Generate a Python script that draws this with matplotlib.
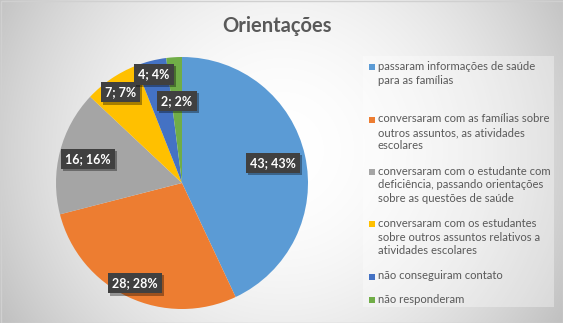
import numpy as np
import matplotlib
matplotlib.use("Agg")
import matplotlib.pyplot as plt
from matplotlib.patches import Rectangle
import matplotlib.patheffects as pe

plt.rcParams['font.family'] = ['Lato', 'DejaVu Sans']

# Data
categories = [
    "passaram informações de saúde\npara as famílias",
    "conversaram com as famílias sobre\noutros assuntos, as atividades\nescolares",
    "conversaram com o estudante com\ndeficiência, passando orientações\nsobre as questões de saúde",
    "conversaram com os estudantes\nsobre outros assuntos relativos a\natividades escolares",
    "não conseguiram contato",
    "não responderam",
]
values = [43, 28, 16, 7, 4, 2]
colors = ["#5B9BD5", "#ED7D31", "#A5A5A5", "#FFC000", "#4472C4", "#70AD47"]
legend_rows = [3, 3, 3, 3, 1, 1]
label_dist = [0.74, 0.88, 0.77, 0.87, 0.89, 0.65]
title = "Orientações"

W, H = 563, 323
fig = plt.figure(figsize=(W / 100, H / 100), dpi=100)

# Radial gradient background
bg = fig.add_axes([0, 0, 1, 1])
yy, xx = np.mgrid[0:H, 0:W]
d = np.hypot(xx - 282, yy - 150)
d = d / d.max()
v = 1 - 0.25 * d ** 2
img = np.dstack([v, v, v])
bg.imshow(img, extent=[0, W, H, 0], aspect='auto', interpolation='bilinear')
bg.set_xlim(0, W)
bg.set_ylim(H, 0)
bg.axis('off')
bg.add_patch(Rectangle((0.5, 0.5), W - 1, H - 1, fill=False, edgecolor="#d0d0d0", lw=1))

# Title
bg.text(277, 26, title, ha='center', va='center', fontsize=14.5,
        fontweight='bold', color="#595959")

# Pie
cx, cy, R = 182, 183, 126
ax = fig.add_axes([(cx - R) / W, (H - cy - R) / H, 2 * R / W, 2 * R / H])
wedges, _ = ax.pie(values, colors=colors, startangle=90, counterclock=False,
                   radius=1.0, wedgeprops=dict(linewidth=0))
ax.set_xlim(-1, 1)
ax.set_ylim(-1, 1)
ax.set_aspect('auto')
ax.axis('off')

total = sum(values)
for w, val, dist in zip(wedges, values, label_dist):
    ang = np.deg2rad((w.theta1 + w.theta2) / 2)
    x, y = dist * np.cos(ang), dist * np.sin(ang)
    t = ax.text(x, y, f"{val}; {round(100 * val / total)}%", ha='center', va='center',
                fontsize=9, fontweight='bold', color='white',
                bbox=dict(boxstyle='square,pad=0.33', facecolor='#404040', edgecolor='none'))
    t.get_bbox_patch().set_path_effects([
        pe.SimplePatchShadow(offset=(1.5, -1.5), shadow_rgbFace='black', alpha=0.35),
        pe.Normal()])

# Legend
bg.add_patch(Rectangle((363, 56), 191, 251, facecolor='white', alpha=0.35, edgecolor='none'))
line_h = 14.3
gap = 9.4
y = 67.3
for lab, col, rows in zip(categories, colors, legend_rows):
    bg.add_patch(Rectangle((369, y - 3), 6, 6, facecolor=col, edgecolor='none'))
    bg.text(378, y - line_h / 2 + 1, lab, ha='left', va='top', fontsize=8.1,
            color="#595959", linespacing=1.28)
    y += rows * line_h + gap

fig.savefig("out.png", dpi=100)
